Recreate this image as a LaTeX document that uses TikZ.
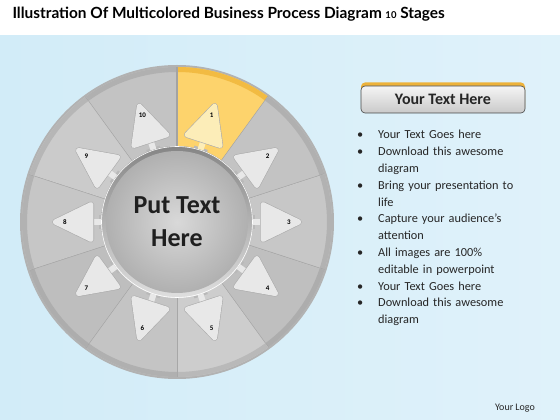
\documentclass[tikz,border=0pt]{standalone}
\usepackage{fontspec}
\setmainfont{Carlito}
\newfontfamily\titlefont{Lato}

\definecolor{bgblue}{HTML}{D2ECF8}
\definecolor{segyellow}{HTML}{FDD36C}
\definecolor{rimyellow}{HTML}{F2BB42}
\definecolor{pointergray}{HTML}{E8E8E8}
\definecolor{pointeryellow}{HTML}{FCEDB8}
\definecolor{headorange}{HTML}{EDB23A}
\definecolor{textdark}{HTML}{262626}

\begin{document}
\begin{tikzpicture}[x=1pt,y=1pt,
  num/.style={font=\bfseries\fontsize{7}{7}\selectfont,text=black,inner sep=0pt},
  pointer/.style={line join=round},
  separator/.style={draw=gray!72,line width=1.2pt},
  headbox/.style={rounded corners=4pt,minimum width=164pt,minimum height=27pt,
    top color=gray!8,bottom color=gray!42,draw=gray!55!black,line width=0.6pt,
    font=\bfseries\fontsize{16}{16}\selectfont,text=textdark}]
\useasboundingbox (0,0) rectangle (560,420);
\fill[white] (0,0) rectangle (560,420);
\shade[left color=bgblue,middle color=white,right color=bgblue!70!white] (0,0) rectangle (560,384);
\node[anchor=west,font=\titlefont\bfseries\fontsize{15.4}{15.4}\selectfont] (title) at (9,406)
  {Illustration Of Multicolored Business Process Diagram {\fontsize{9.5}{9.5}\selectfont 10} Stages};

% wheel
\begin{scope}[shift={(177,198)}]
\fill[gray!60] (0,0) circle (157);
\foreach \i/\seg/\rim in {1/segyellow/rimyellow,2/gray!47/gray!62,3/gray!44/gray!60,
    4/gray!50/gray!64,5/gray!39/gray!55,6/gray!46/gray!62,7/gray!51/gray!64,
    8/gray!45/gray!60,9/gray!41/gray!57,10/gray!47/gray!62} {
  \fill[\seg] (0,0) -- (126-36*\i:155) arc[start angle=126-36*\i,end angle=90-36*\i,radius=155] -- cycle;
  \draw[\rim,line width=5pt] (126-36*\i:152.5) arc[start angle=126-36*\i,end angle=90-36*\i,radius=152.5];
  \draw[separator] (90-36*\i:74) -- (90-36*\i:155);
}
\foreach \i in {1,...,10} {
  \pgfmathsetmacro\ang{108-36*\i}
  \ifnum\i=1 \def\pfill{pointeryellow}\else \def\pfill{pointergray}\fi
  \begin{scope}[rotate=\ang]
    \fill[gray!55] (72,-7) rectangle (78,7);
    \fill[\pfill] (72,-3) rectangle (87,3);
    \draw[pointer,gray!65,line width=6pt] (86,-17.5) -- (122,0) -- (86,17.5) -- cycle;
    \filldraw[pointer,\pfill,line width=4.8pt] (86,-17.5) -- (122,0) -- (86,17.5) -- cycle;
  \end{scope}
  \node[num] (n\i) at (\ang:112) {\i};
}
\shade[top color=gray!95,bottom color=gray!25] (0,0) circle (76);
\draw[white,line width=0.6pt] (0,0) circle (75.5);
\node[circle,minimum size=142pt,inner color=gray!30,outer color=gray!62] (hub) at (0,0) {};
\node[align=center,font=\bfseries\fontsize{26}{33}\selectfont,text=black!88] (hubtext) at (hub) {Put Text\\Here};
\end{scope}

% side panel
\node[rounded corners=4pt,minimum width=164pt,minimum height=29pt,fill=headorange] (headback) at (443,323) {};
\node[headbox] (head) at (443,320.5) {Your Text Here};
\node[anchor=north west,text width=175pt,inner sep=0pt,text=textdark,
  font=\fontsize{12.3}{16.8}\selectfont] (list) at (352,306) {%
  \setlength\leftmargini{26pt}\setlength\labelsep{15pt}%
  \begin{itemize}\setlength\itemsep{0pt}\setlength\parskip{0pt}\setlength\parsep{0pt}
  \item Your Text Goes here
  \item Download this awesome\newline diagram
  \item Bring your presentation to\newline life
  \item Capture your audience’s\newline attention
  \item All images are 100\%\newline editable in powerpoint
  \item Your Text Goes here
  \item Download this awesome\newline diagram
  \end{itemize}};
\node[font=\fontsize{10}{10}\selectfont,text=textdark] (logo) at (515,12) {Your Logo};
\end{tikzpicture}
\end{document}
